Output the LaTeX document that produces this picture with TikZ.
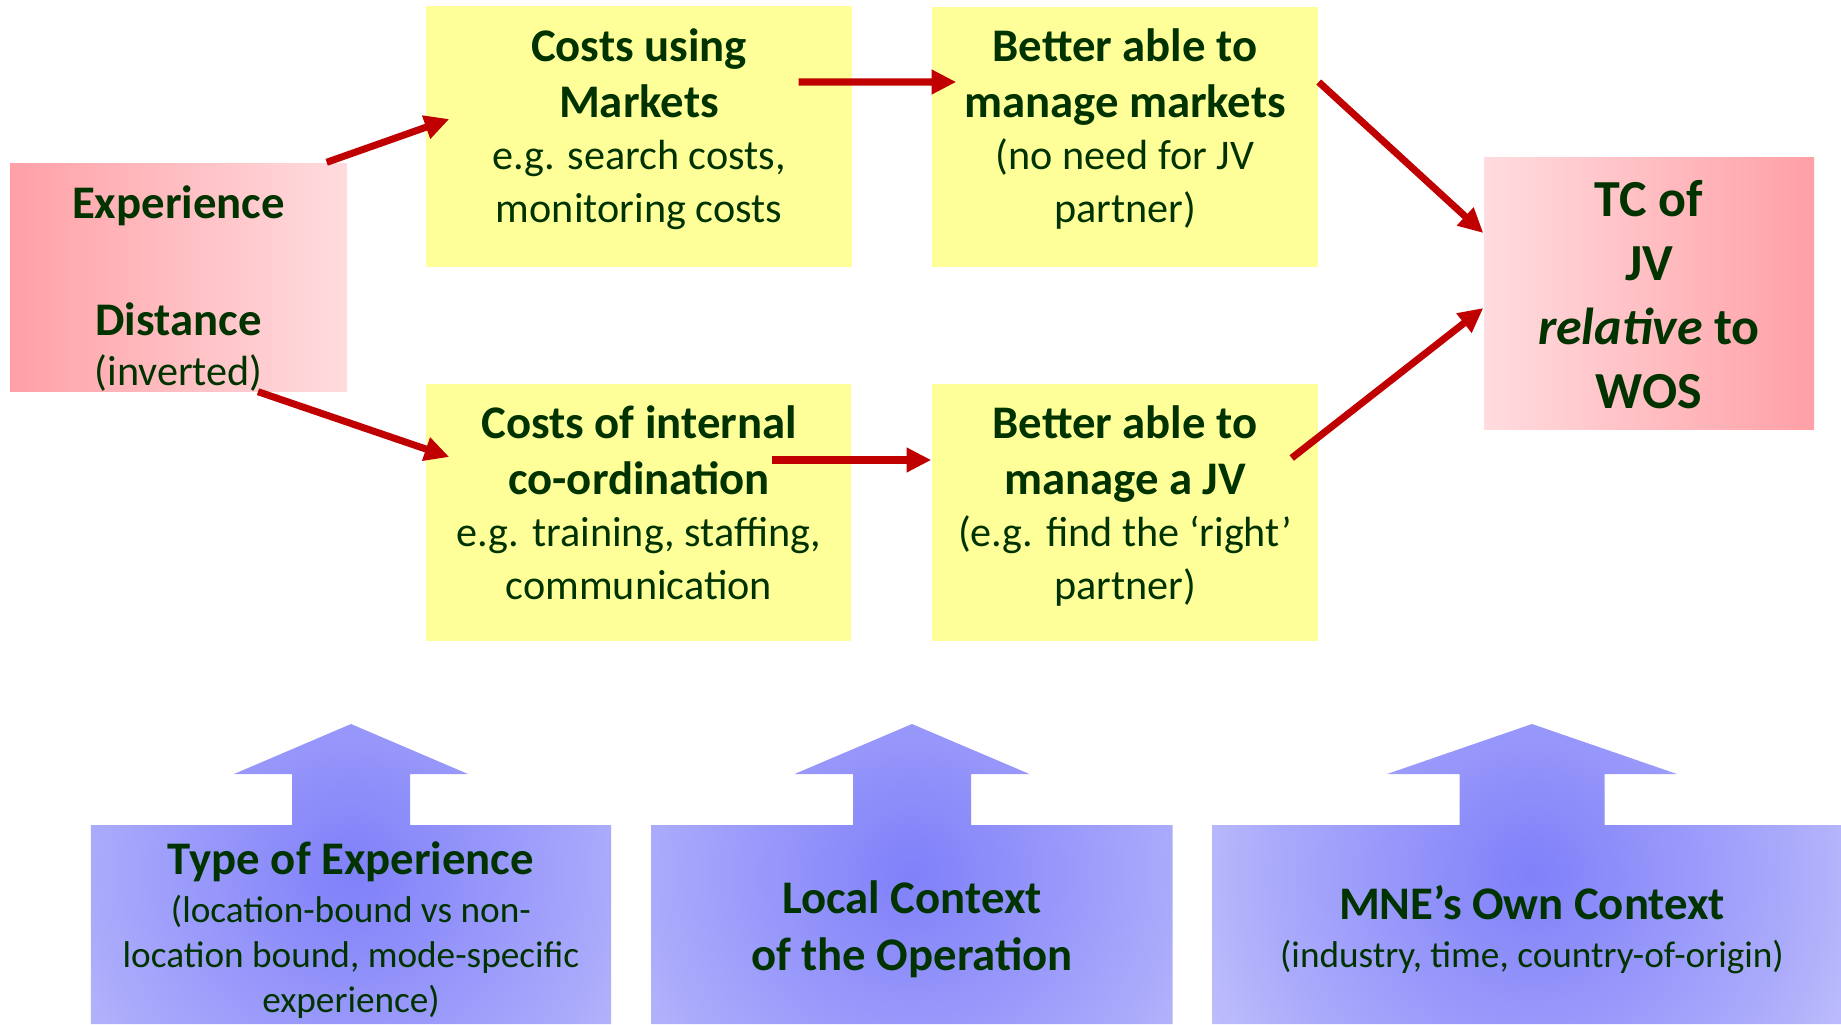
\documentclass[tikz,border=0pt]{standalone}
\usepackage{fontspec}
\setmainfont{Carlito}
\usepackage{tikz}
\usetikzlibrary{
		arrows.meta,
		calc,
		positioning
	}
\definecolor{txtgreen}{RGB}{0,51,0}
\definecolor{boxyellow}{RGB}{255,255,153}
\definecolor{pinkdark}{RGB}{255,160,166}
\definecolor{pinklight}{RGB}{255,220,223}
\definecolor{arrowred}{RGB}{192,0,0}
\definecolor{ctxin}{RGB}{128,128,250}
\definecolor{ctxmid}{RGB}{171,171,251}
\definecolor{ctxout}{RGB}{216,216,253}
% glow for the context boxes, used on a circle of radius 6
\pgfdeclareradialshading{ctxglow}{\pgfpointorigin}{color(0bp)=(ctxin); color(11bp)=(ctxmid); color(20bp)=(ctxout); color(50bp)=(ctxout)}
\tikzset{
		>=stealth,
		ybox/.style={fill=boxyellow, inner sep=0pt},
		pbox/.style={inner sep=0pt},
		btxt/.style={align=center, anchor=base, text=txtgreen, font=\fontsize{12}{14.8}\selectfont},
		ctxtxt/.style={align=center, anchor=base, text=txtgreen, font=\fontsize{10.6}{12.8}\selectfont},
		flow/.style={draw=arrowred, line width=2pt, -{Triangle[length=7pt,width=6.6pt]}}
	}
\newcommand{\hd}[1]{{\fontsize{13.3}{15.4}\selectfont\bfseries #1}}
% up arrow sitting on a box: centre x, box half width, stem half width, head half width
\newcommand{\ctxarrow}[4]{%
	\begin{scope}
		\clip ({#1-#2},-10.24) -- ({#1-#2},-8.25) -- ({#1-#3},-8.25) -- ({#1-#3},-7.74) -- ({#1-#4},-7.74) -- (#1,-7.24)
			-- ({#1+#4},-7.74) -- ({#1+#3},-7.74) -- ({#1+#3},-8.25) -- ({#1+#2},-8.25) -- ({#1+#2},-10.24) -- cycle;
		\shade[shading=ctxglow] (#1,-8.74) circle (6);
	\end{scope}}

\begin{document}
\begin{tikzpicture}
          \useasboundingbox (0,0) rectangle (18.41,-10.24);

          \node[pbox, left color=pinkdark, right color=pinklight, minimum width=3.37cm, minimum height=2.28cm] (exp) at (1.785,-2.77) {};
          \node[ybox, minimum width=4.26cm, minimum height=2.61cm] (mkt) at (6.39,-1.365) {};
          \node[ybox, minimum width=3.86cm, minimum height=2.60cm] (mgm) at (11.25,-1.37) {};
          \node[ybox, minimum width=4.25cm, minimum height=2.57cm] (crd) at (6.385,-5.125) {};
          \node[ybox, minimum width=3.86cm, minimum height=2.57cm] (mjv) at (11.25,-5.125) {};
          \node[pbox, left color=pinklight, right color=pinkdark, minimum width=3.30cm, minimum height=2.72cm] (tc) at (16.49,-2.93) {};

          % text sits on the baseline of its last line
          \node[btxt] (exp-t) at (1.785,-3.85) {\hd{Experience}\\[18.5pt]\hd{Distance}\\[-0.6pt](inverted)};
          \node[btxt] (mkt-t) at (6.39,-2.22) {\hd{Costs using}\\[1.4pt]\hd{Markets}\\e.g. search costs,\\monitoring costs};
          \node[btxt] (mgm-t) at (11.25,-2.22) {\hd{Better able to}\\[1.4pt]\hd{manage markets}\\(no need for JV\\partner)};
          \node[btxt] (crd-t) at (6.39,-5.99) {\hd{Costs of internal}\\[1.4pt]\hd{co-ordination}\\e.g. training, staffing,\\communication};
          \node[btxt] (mjv-t) at (11.25,-5.99) {\hd{Better able to}\\[1.4pt]\hd{manage a JV}\\(e.g. find the ‘right’\\partner)};
          \node[btxt, font=\fontsize{14.8}{18.2}\selectfont\bfseries] (tc-t) at (16.49,-4.08) {TC of\\JV\\\textit{relative} to\\WOS};

          % context arrows along the bottom
          \ctxarrow{3.51}{2.60}{0.59}{1.17}
          \ctxarrow{9.12}{2.605}{0.59}{1.175}
          \ctxarrow{15.32}{3.20}{0.725}{1.45}

          \node[ctxtxt] (typeexp) at (3.51,-10.12) {\hd{Type of Experience}\\[0.6pt](location-bound vs non-\\location bound, mode-specific\\experience)};
          \node[ctxtxt, font=\fontsize{13.3}{16.2}\selectfont\bfseries] (localctx) at (9.12,-9.70) {Local Context\\of the Operation};
          \node[ctxtxt] (ownctx) at (15.32,-9.67) {\hd{MNE’s Own Context}\\[0.6pt](industry, time, country-of-origin)};

          \draw[flow] ([xshift=-0.21cm]exp.north east) -- ([shift={(0.24,0.175)}]mkt.west);
          \draw[flow] ([xshift=0.795cm]exp.south) -- ([shift={(0.24,0.555)}]crd.west);
          \draw[flow] ([shift={(-0.54,0.545)}]mkt.east) -- ([shift={(0.25,0.55)}]mgm.west);
          \draw[flow] ([shift={(-0.80,0.525)}]crd.east) -- ([yshift=0.525cm]mjv.west);
          \draw[flow] ([yshift=0.55cm]mgm.east) -- ([yshift=0.60cm]tc.west);
          \draw[flow] ([shift={(-0.27,0.545)}]mjv.east) -- ([yshift=-0.15cm]tc.west);

          \end{tikzpicture}
\end{document}
